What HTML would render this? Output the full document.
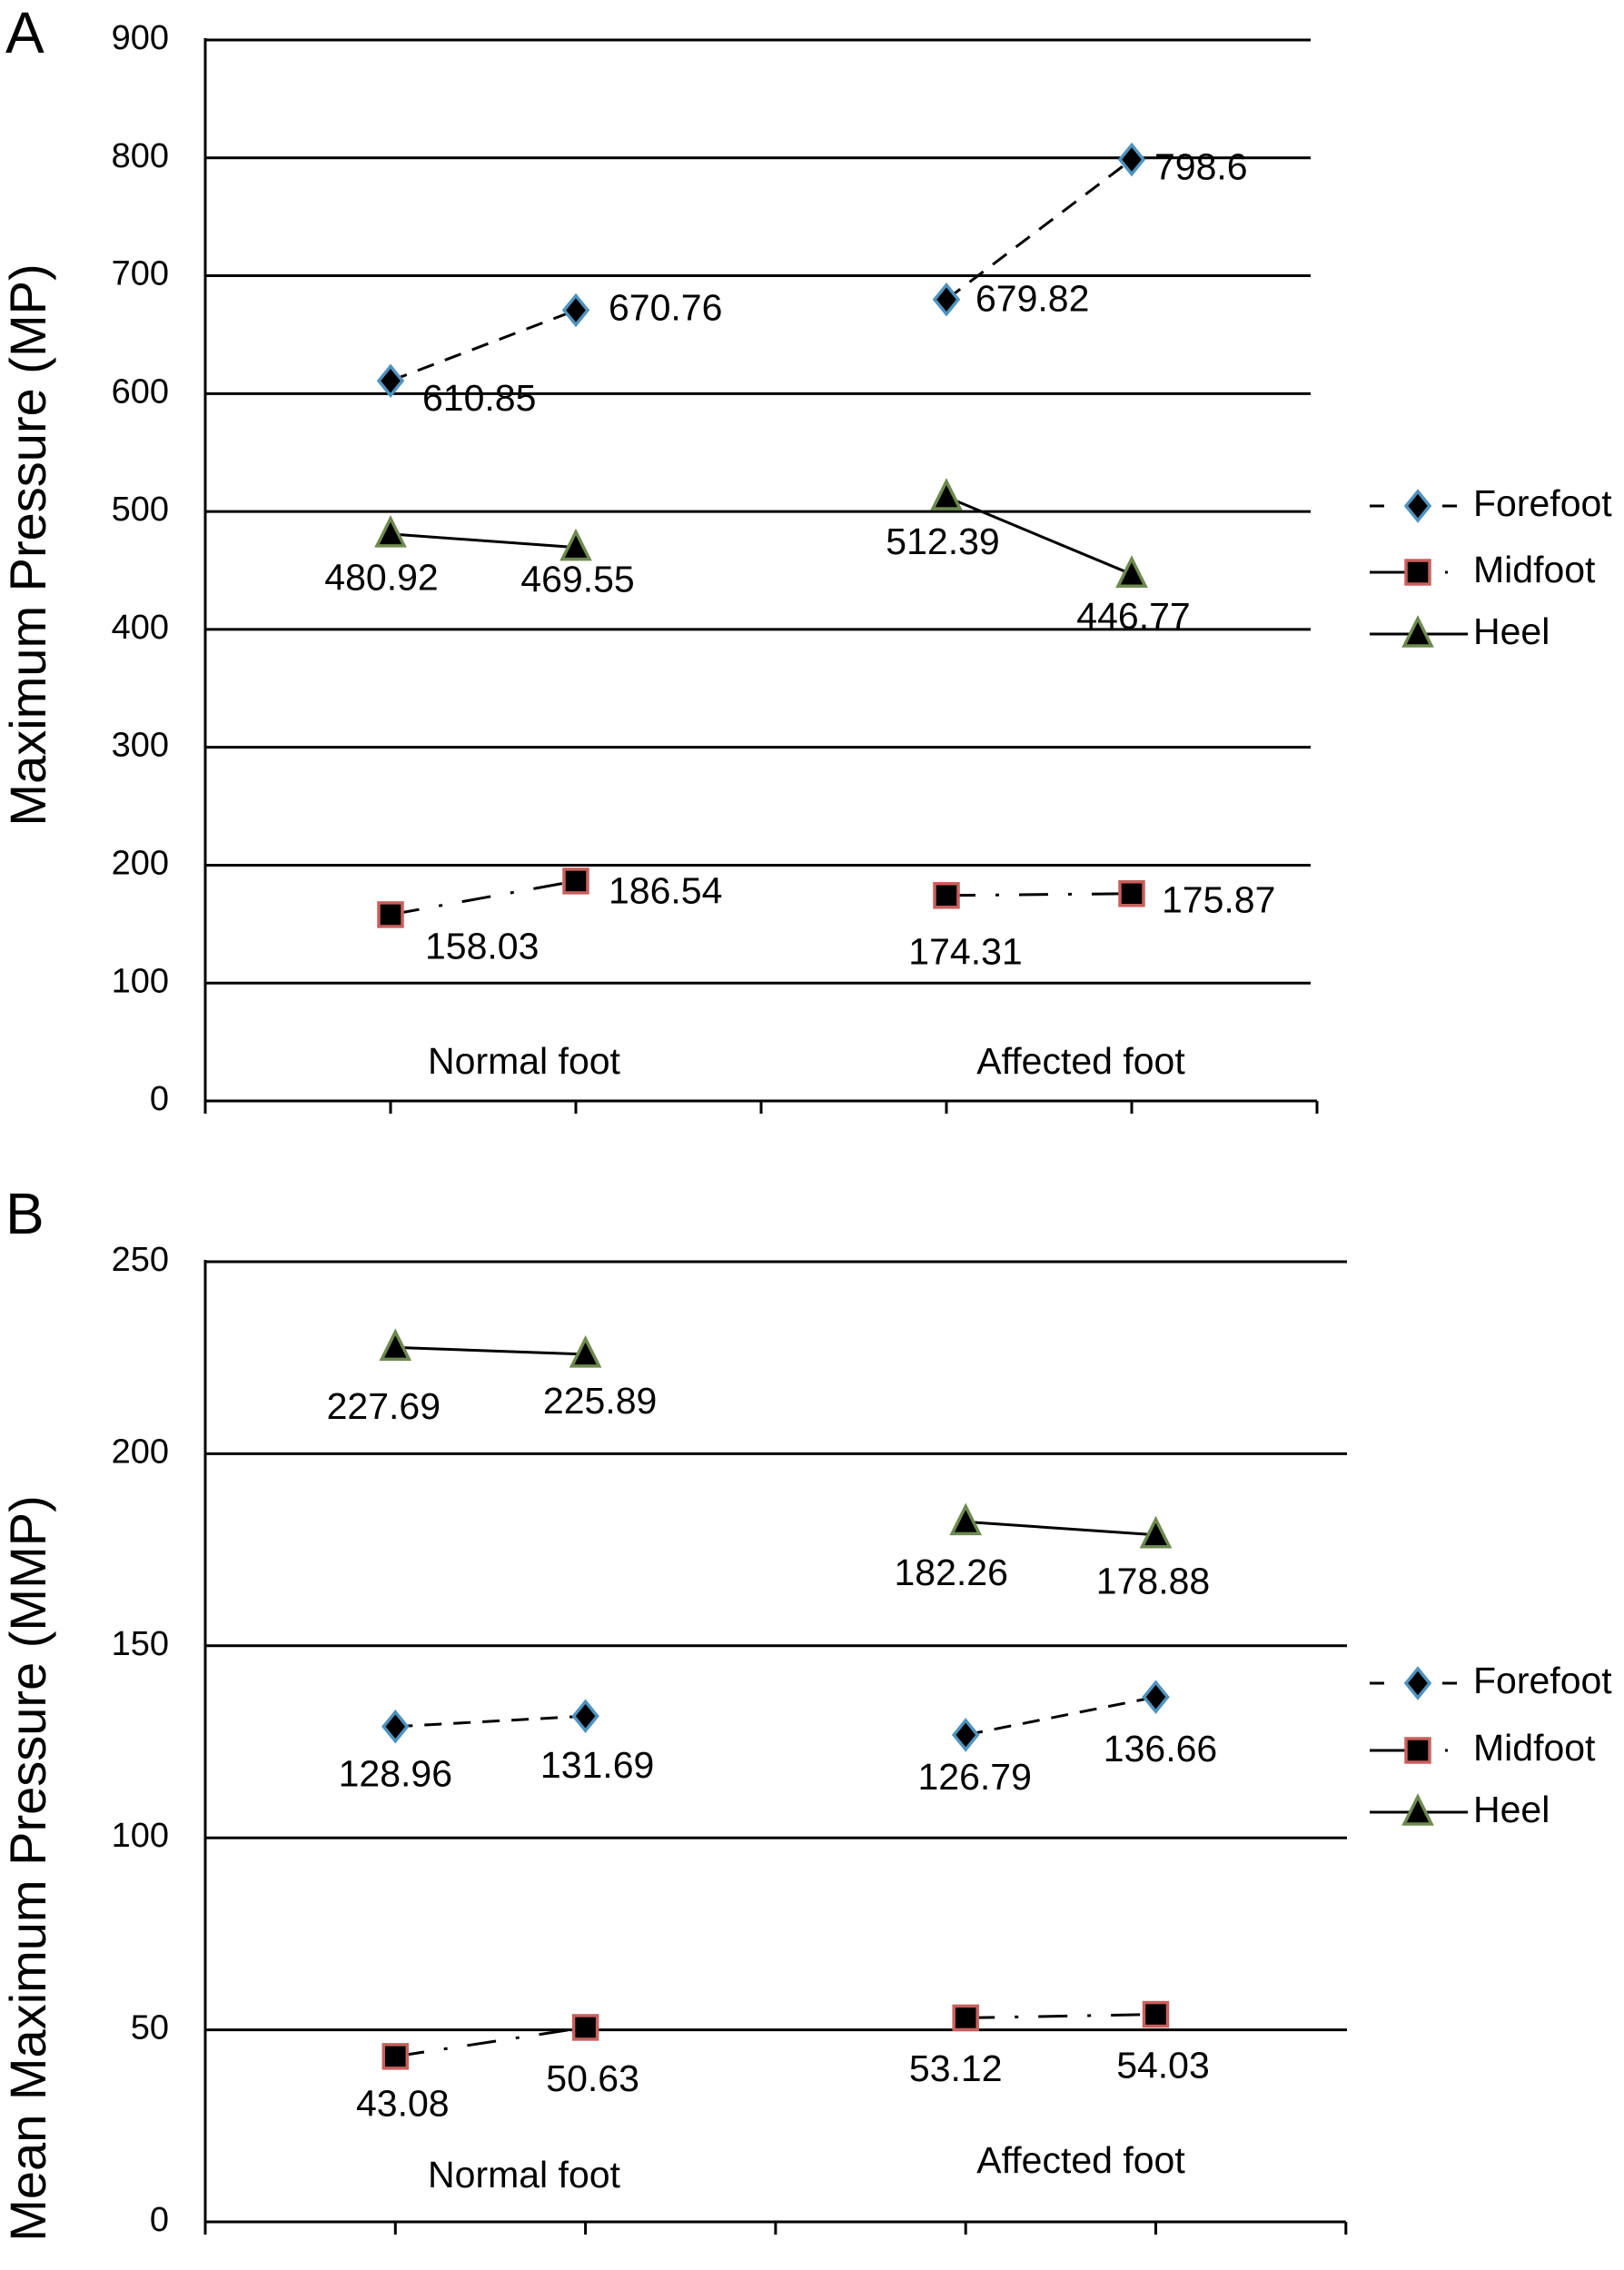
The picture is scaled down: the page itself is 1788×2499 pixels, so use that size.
<!DOCTYPE html>
<html><head><meta charset="utf-8">
<style>
html,body{margin:0;padding:0;background:#fff;}
svg{display:block;font-family:"Liberation Sans",Arial,sans-serif;}
</style></head>
<body>
<svg id="chart" width="1788" height="2499" viewBox="0 0 1788 2499" xmlns="http://www.w3.org/2000/svg"></svg>
<script>
// ----- data -----
const categories = ["Normal foot", "Affected foot"];
const seriesNames = ["Forefoot", "Midfoot", "Heel"];
// Panel A: Maximum Pressure (MP) — 4 points: normal(2), affected(2)
const aForefoot = [610.85, 670.76, 679.82, 798.6];
const aMidfoot = [158.03, 186.54, 174.31, 175.87];
const aHeel = [480.92, 469.55, 512.39, 446.77];
const aTicks = [0, 100, 200, 300, 400, 500, 600, 700, 800, 900];
// Panel B: Mean Maximum Pressure (MMP)
const bForefoot = [128.96, 131.69, 126.79, 136.66];
const bMidfoot = [43.08, 50.63, 53.12, 54.03];
const bHeel = [227.69, 225.89, 182.26, 178.88];
const bTicks = [0, 50, 100, 150, 200, 250];

const NS = "http://www.w3.org/2000/svg";
const svg = document.getElementById("chart");
function mk(tag, attrs, parent) {
  const e = document.createElementNS(NS, tag);
  for (const k in attrs) e.setAttribute(k, attrs[k]);
  (parent || svg).appendChild(e);
  return e;
}
const styles = {
  Forefoot: {dash: "19,13"},
  Midfoot: {dash: "32,22,4,22"},
  Heel: {dash: "none"}
};
function marker(g, kind, x, y) {
  let m;
  if (kind === "Forefoot") {
    m = mk("polygon", {points: `${x},${y-16} ${x+13},${y} ${x},${y+16} ${x-13},${y}`, fill: "#000", stroke: "#4f93c0", "stroke-width": 3.5}, g);
  } else if (kind === "Midfoot") {
    m = mk("rect", {x: x-13, y: y-13, width: 26, height: 26, fill: "#000", stroke: "#c9605c", "stroke-width": 3.5}, g);
  } else {
    m = mk("polygon", {points: `${x},${y-17} ${x+15},${y+13} ${x-15},${y+13}`, fill: "#000", stroke: "#6d8a4f", "stroke-width": 3.5}, g);
  }
  
  
}

function panel(cfg) {
  const g = mk("g", {});
  
  
  const maxV = cfg.ticks[cfg.ticks.length - 1];
  const yS = v => cfg.y0 - (v / maxV) * (cfg.y0 - cfg.yTop);
  const xS = i => cfg.xL + cfg.pointSlots[i] * cfg.slot;
  const L = mk("text", {x: 6, y: cfg.letterY, "font-size": 64}, g);
  L.textContent = cfg.letter;
  
  
  cfg.ticks.forEach(t => {
    const y = yS(t);
    if (t > 0) {
      const gl = mk("line", {x1: cfg.xL, x2: cfg.gridR, y1: y, y2: y, stroke: "#000", "stroke-width": 3}, g);
      
      
    }
    const tl = mk("text", {x: cfg.xL - 40, y: y, "font-size": 38, "text-anchor": "end", "dominant-baseline": "middle"}, g);
    tl.textContent = t;
    
    
  });
  const ya = mk("line", {x1: cfg.xL, x2: cfg.xL, y1: cfg.yTop - 2, y2: cfg.y0 + 2, stroke: "#000", "stroke-width": 3}, g);
  
  
  const xa = mk("line", {x1: cfg.xL, x2: cfg.xL + 6 * cfg.slot, y1: cfg.y0, y2: cfg.y0, stroke: "#000", "stroke-width": 3}, g);
  
  
  for (let i = 0; i <= 6; i++) {
    const tk = mk("line", {x1: cfg.xL + i * cfg.slot, x2: cfg.xL + i * cfg.slot, y1: cfg.y0, y2: cfg.y0 + 14, stroke: "#000", "stroke-width": 3}, g);
    
    
  }
  const yt = mk("text", {x: 0, y: 0, "font-size": 56, "text-anchor": "middle", transform: `translate(50,${cfg.titleY}) rotate(-90)`}, g);
  yt.textContent = cfg.title;
  
  
  categories.forEach((c, i) => {
    const ct = mk("text", {x: cfg.catX[i], y: cfg.catY[i], "font-size": 41, "text-anchor": "middle", "dominant-baseline": "middle"}, g);
    ct.textContent = c;
    
    
  });
  seriesNames.forEach((s, si) => {
    const vals = cfg.data[si];
    const sg = mk("g", {}, g);
    
    
    for (let p = 0; p < 2; p++) {
      const a = p * 2, b = p * 2 + 1;
      const ln = mk("line", {x1: xS(a), y1: yS(vals[a]), x2: xS(b), y2: yS(vals[b]), stroke: "#000", "stroke-width": 3, "stroke-dasharray": styles[s].dash}, sg);
      
      
    }
    vals.forEach((v, i) => {
      marker(sg, s, xS(i), yS(v));
      const off = cfg.offs[si][i];
      const lt = mk("text", {x: xS(i) + off[0], y: yS(v) + off[1], "font-size": 41, "text-anchor": off[2], "dominant-baseline": "middle"}, sg);
      lt.textContent = v;
      
      
    });
  });
  const lg = mk("g", {}, g);
  
  
  seriesNames.forEach((s, si) => {
    const y = cfg.legY[si];
    const e = mk("g", {}, lg);
    
    
    mk("line", {x1: 1508, x2: 1616, y1: y, y2: y, stroke: "#000", "stroke-width": 3, "stroke-dasharray": s === "Forefoot" ? "16,12,0,52,16" : (s === "Midfoot" ? "60,23,3,30" : "none")}, e);
    marker(e, s, 1561, y);
    const t = mk("text", {x: 1622, y: y, "font-size": 41, "dominant-baseline": "middle"}, e);
    t.textContent = s;
  });
}

panel({
  name: "panel-a-chart", letter: "A", letterY: 58, title: "Maximum Pressure (MP)", titleY: 600,
  xL: 226, slot: 204, gridR: 1443, yTop: 44, y0: 1212, ticks: aTicks,
  pointSlots: [1, 2, 4, 5],
  data: [aForefoot, aMidfoot, aHeel],
  catX: [577, 1190], catY: [1171, 1171],
  offs: [
    [[35, 22, "start"], [36, 0, "start"], [32, 2, "start"], [25, 11, "start"]],
    [[38, 38, "start"], [36, 14, "start"], [21, 65, "middle"], [33, 10, "start"]],
    [[-10, 51, "middle"], [2, 38, "middle"], [-4, 52, "middle"], [2, 49, "middle"]]
  ],
  legY: [557, 630, 698]
});
panel({
  name: "panel-b-chart", letter: "B", letterY: 1358, title: "Mean Maximum Pressure (MMP)", titleY: 2057,
  xL: 226, slot: 209.3, gridR: 1483, yTop: 1389, y0: 2446, ticks: bTicks,
  pointSlots: [1, 2, 4, 5],
  data: [bForefoot, bMidfoot, bHeel],
  catX: [577, 1190], catY: [2397, 2381],
  offs: [
    [[0, 55, "middle"], [13, 57, "middle"], [10, 49, "middle"], [5, 60, "middle"]],
    [[8, 55, "middle"], [8, 59, "middle"], [-11, 59, "middle"], [8, 59, "middle"]],
    [[-13, 68, "middle"], [16, 54, "middle"], [-16, 59, "middle"], [-3, 54, "middle"]]
  ],
  legY: [1853, 1927, 1995]
});
</script>
</body></html>
